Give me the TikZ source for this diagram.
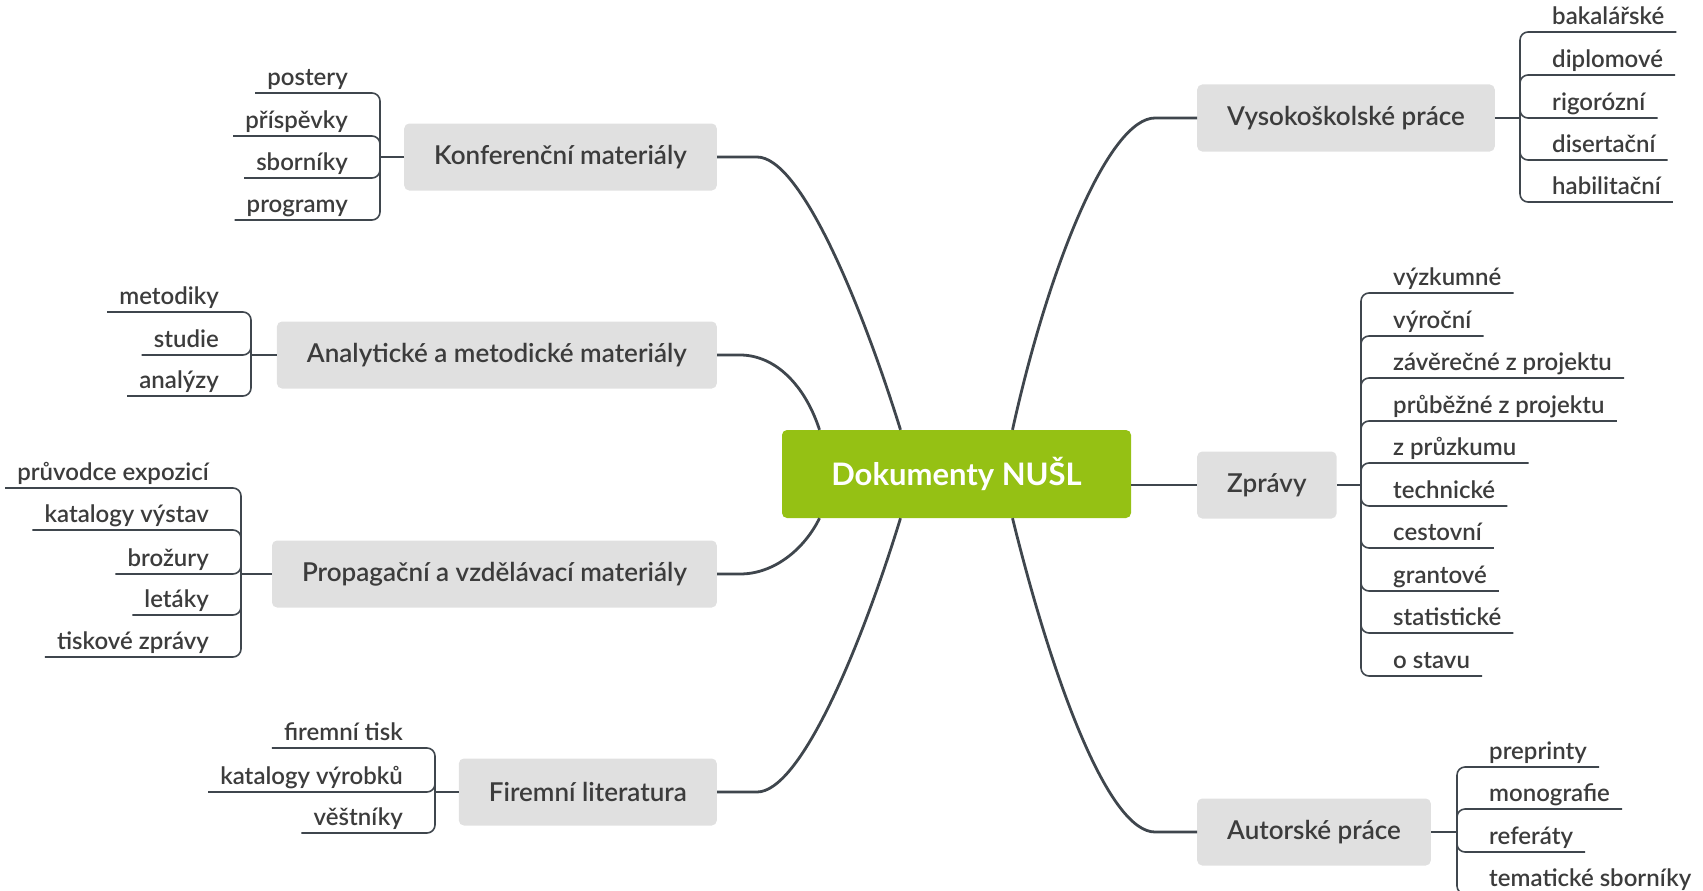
\documentclass[tikz,border=0pt]{standalone}
\usepackage{fontspec}
\setmainfont{Lato}[UprightFont={Lato Semibold}, BoldFont={Lato Bold}]
\definecolor{linea}{HTML}{3F464D}
\definecolor{testo}{HTML}{3C3C3C}
\definecolor{verde}{HTML}{95C114}
\definecolor{grigio}{HTML}{E0E0E0}

\begin{document}
\begin{tikzpicture}[x=1pt, y=-1pt,
    tema/.style={fill=grigio, rounded corners=5pt, text=testo, font=\fontsize{26}{30}\selectfont, minimum height=67pt, inner xsep=30pt},
    voce/.style={text=testo, font=\fontsize{24}{28}\selectfont, inner xsep=12pt, inner ysep=0pt, text height=17pt, text depth=7pt},
    ramo/.style={draw=linea, line width=2.8pt},
    rametto/.style={draw=linea, line width=1.6pt, rounded corners=8pt}]

    \useasboundingbox (0,0) rectangle (1703,891);

    %-------------------------
    % Nodo centrale
    %-------------------------
    \node[fill=verde, rounded corners=5pt, text=white, font=\fontsize{31}{36}\selectfont\bfseries,
          minimum width=349pt, minimum height=88pt] (root) at (956.5,474) {Dokumenty NUŠL};

    %-------------------------
    % Temi a sinistra
    %-------------------------
    \node[tema, anchor=east] (konf) at (717,157) {Konferenční materiály};
    \node[tema, anchor=east] (anal) at (717,355) {Analytické a metodické materiály};
    \node[tema, anchor=east] (prop) at (717,574) {Propagační a vzdělávací materiály};
    \node[tema, anchor=east] (firm) at (717,792) {Firemní literatura};

    \draw[ramo] (konf.east) -- (757,157) .. controls (800,157) and (860,300) .. ([xshift=-56pt]root.north);
    \draw[ramo] (anal.east) -- (740,355) .. controls (775,355) and (805,385) .. ([xshift=-137pt]root.north);
    \draw[ramo] (prop.east) -- (740,574) .. controls (775,574) and (805,548) .. ([xshift=-137pt]root.south);
    \draw[ramo] (firm.east) -- (757,792) .. controls (800,792) and (860,650) .. ([xshift=-56pt]root.south);

    %-------------------------
    % Temi a destra
    %-------------------------
    \node[tema, anchor=west] (vys) at (1197,118) {Vysokoškolské práce};
    \node[tema, anchor=west] (zpr) at (1197,485) {Zprávy};
    \node[tema, anchor=west] (aut) at (1197,832) {Autorské práce};

    \draw[ramo] (vys.west) -- (1155,118) .. controls (1110,118) and (1050,260) .. ([xshift=56pt]root.north);
    \draw[ramo] (zpr.west -| root.east) -- (zpr.west);
    \draw[ramo] (aut.west) -- (1155,832) .. controls (1110,832) and (1055,690) .. ([xshift=56pt]root.south);

    %-------------------------
    % Konferenční materiály
    %-------------------------
    \coordinate (konf-j) at (380,157);
    \draw[rametto] (konf.west) -- (konf-j);
    \node[voce, anchor=south east] (k1) at (360,93) {postery};
    \node[voce, anchor=south east] (k2) at (360,136) {příspěvky};
    \node[voce, anchor=south east] (k3) at (360,178) {sborníky};
    \node[voce, anchor=south east] (k4) at (360,220) {programy};
    \draw[rametto] (konf-j) |- (k1.south east) -- (k1.south west);
    \draw[rametto] (konf-j) |- (k2.south east) -- (k2.south west);
    \draw[rametto] (konf-j) |- (k3.south east) -- (k3.south west);
    \draw[rametto] (konf-j) |- (k4.south east) -- (k4.south west);

    %-------------------------
    % Analytické a metodické materiály
    %-------------------------
    \coordinate (anal-j) at (251,355);
    \draw[rametto] (anal.west) -- (anal-j);
    \node[voce, anchor=south east] (a1) at (231,312) {metodiky};
    \node[voce, anchor=south east] (a2) at (231,355) {studie};
    \node[voce, anchor=south east] (a3) at (231,396) {analýzy};
    \draw[rametto] (anal-j) |- (a1.south east) -- (a1.south west);
    \draw[rametto] (anal-j) |- (a2.south east) -- (a2.south west);
    \draw[rametto] (anal-j) |- (a3.south east) -- (a3.south west);

    %-------------------------
    % Propagační a vzdělávací materiály
    %-------------------------
    \coordinate (prop-j) at (241,574);
    \draw[rametto] (prop.west) -- (prop-j);
    \node[voce, anchor=south east] (p1) at (221,488) {průvodce expozicí};
    \node[voce, anchor=south east] (p2) at (221,530) {katalogy výstav};
    \node[voce, anchor=south east] (p3) at (221,574) {brožury};
    \node[voce, anchor=south east] (p4) at (221,615) {letáky};
    \node[voce, anchor=south east] (p5) at (221,657) {tiskové zprávy};
    \draw[rametto] (prop-j) |- (p1.south east) -- (p1.south west);
    \draw[rametto] (prop-j) |- (p2.south east) -- (p2.south west);
    \draw[rametto] (prop-j) |- (p3.south east) -- (p3.south west);
    \draw[rametto] (prop-j) |- (p4.south east) -- (p4.south west);
    \draw[rametto] (prop-j) |- (p5.south east) -- (p5.south west);

    %-------------------------
    % Firemní literatura
    %-------------------------
    \coordinate (firm-j) at (435,792);
    \draw[rametto] (firm.west) -- (firm-j);
    \node[voce, anchor=south east] (f1) at (415,748) {firemní tisk};
    \node[voce, anchor=south east] (f2) at (415,792) {katalogy výrobků};
    \node[voce, anchor=south east] (f3) at (415,833) {věštníky};
    \draw[rametto] (firm-j) |- (f1.south east) -- (f1.south west);
    \draw[rametto] (firm-j) |- (f2.south east) -- (f2.south west);
    \draw[rametto] (firm-j) |- (f3.south east) -- (f3.south west);

    %-------------------------
    % Vysokoškolské práce
    %-------------------------
    \coordinate (vys-j) at (1520,118);
    \draw[rametto] (vys.east) -- (vys-j);
    \node[voce, anchor=south west] (v1) at (1540,32) {bakalářské};
    \node[voce, anchor=south west] (v2) at (1540,75) {diplomové};
    \node[voce, anchor=south west] (v3) at (1540,118) {rigorózní};
    \node[voce, anchor=south west] (v4) at (1540,160) {disertační};
    \node[voce, anchor=south west] (v5) at (1540,202) {habilitační};
    \draw[rametto] (vys-j) |- (v1.south west) -- (v1.south east);
    \draw[rametto] (vys-j) |- (v2.south west) -- (v2.south east);
    \draw[rametto] (vys-j) |- (v3.south west) -- (v3.south east);
    \draw[rametto] (vys-j) |- (v4.south west) -- (v4.south east);
    \draw[rametto] (vys-j) |- (v5.south west) -- (v5.south east);

    %-------------------------
    % Zprávy
    %-------------------------
    \coordinate (zpr-j) at (1361,485);
    \draw[rametto] (zpr.east) -- (zpr-j);
    \node[voce, anchor=south west] (z1) at (1381,293) {výzkumné};
    \node[voce, anchor=south west] (z2) at (1381,336) {výroční};
    \node[voce, anchor=south west] (z3) at (1381,378) {závěrečné z projektu};
    \node[voce, anchor=south west] (z4) at (1381,421) {průběžné z projektu};
    \node[voce, anchor=south west] (z5) at (1381,463) {z průzkumu};
    \node[voce, anchor=south west] (z6) at (1381,506) {technické};
    \node[voce, anchor=south west] (z7) at (1381,548) {cestovní};
    \node[voce, anchor=south west] (z8) at (1381,591) {grantové};
    \node[voce, anchor=south west] (z9) at (1381,633) {statistické};
    \node[voce, anchor=south west] (z10) at (1381,676) {o stavu};
    \draw[rametto] (zpr-j) |- (z1.south west) -- (z1.south east);
    \draw[rametto] (zpr-j) |- (z2.south west) -- (z2.south east);
    \draw[rametto] (zpr-j) |- (z3.south west) -- (z3.south east);
    \draw[rametto] (zpr-j) |- (z4.south west) -- (z4.south east);
    \draw[rametto] (zpr-j) |- (z5.south west) -- (z5.south east);
    \draw[rametto] (zpr-j) |- (z6.south west) -- (z6.south east);
    \draw[rametto] (zpr-j) |- (z7.south west) -- (z7.south east);
    \draw[rametto] (zpr-j) |- (z8.south west) -- (z8.south east);
    \draw[rametto] (zpr-j) |- (z9.south west) -- (z9.south east);
    \draw[rametto] (zpr-j) |- (z10.south west) -- (z10.south east);

    %-------------------------
    % Autorské práce
    %-------------------------
    \coordinate (aut-j) at (1457,832);
    \draw[rametto] (aut.east) -- (aut-j);
    \node[voce, anchor=south west] (r1) at (1477,767) {preprinty};
    \node[voce, anchor=south west] (r2) at (1477,809) {monografie};
    \node[voce, anchor=south west] (r3) at (1477,852) {referáty};
    \node[voce, anchor=south west] (r4) at (1477,894) {tematické sborníky};
    \draw[rametto] (aut-j) |- (r1.south west) -- (r1.south east);
    \draw[rametto] (aut-j) |- (r2.south west) -- (r2.south east);
    \draw[rametto] (aut-j) |- (r3.south west) -- (r3.south east);
    \draw[rametto] (aut-j) |- (r4.south west) -- (r4.south east);

\end{tikzpicture}
\end{document}
